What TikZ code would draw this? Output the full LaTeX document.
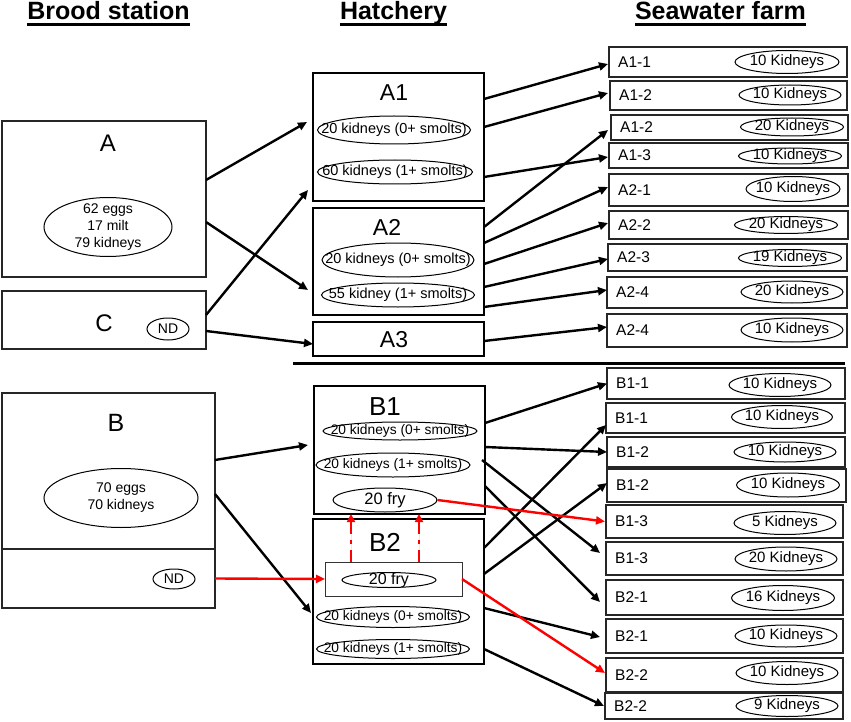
\documentclass[tikz,border=0pt]{standalone}
\usepackage{fontspec}
\setmainfont{Liberation Sans}
\usetikzlibrary{arrows.meta,shapes.geometric}
\newcommand\myfs[1]{\fontsize{#1}{#1}\selectfont}
\tikzset{
 bx/.style={draw=black!85,line width=1.3pt,inner sep=0,outer sep=0},
 hx/.style={draw=black,inner sep=0,outer sep=0},
 ellnode/.style={ellipse,draw=black,line width=1pt,inner sep=0},
 arr/.style={-{Triangle[length=9pt,width=8pt]},line width=2.4pt},
 rarr/.style={arr,draw=red,fill=red},
 rdash/.style={-{Triangle[length=8pt,width=8pt]},line width=2.2pt,draw=red,fill=red,dash pattern=on 12pt off 6pt on 4pt off 6pt},
 txt/.style={inner sep=0},
}
% ellipse with text: name, x, y, w, h, fontsize, text
\newcommand\elli[7]{\node[ellnode,minimum width=#4pt,minimum height=#5pt] (#1) at (#2,#3) {};
 \node[txt,font=\myfs{#6}] (#1t) at (#1) {#7};}
% seawater box: name, cx, cy, w, h, label
\newcommand\sw[6]{\node[bx,minimum width=#4pt,minimum height=#5pt] (#1) at (#2,#3) {};
 \node[txt,font=\myfs{15.5},anchor=west] (#1l) at ([xshift=9pt]#1.west) {#6};}
\begin{document}
\begin{tikzpicture}[x=1pt,y=-1pt]
\useasboundingbox (0,0) rectangle (851,722);
% headers
\node[txt,font=\bfseries\myfs{25},anchor=base] (h1) at (108.5,20) {Brood station};
\node[txt,font=\bfseries\myfs{25},anchor=base] (h2) at (393.5,20) {Hatchery};
\node[txt,font=\bfseries\myfs{25},anchor=base] (h3) at (720.5,20) {Seawater farm};
\foreach \h in {h1,h2,h3}{
 \draw[line width=2.5pt] ([yshift=-4.5pt]\h.base west) -- ([yshift=-4.5pt]\h.base east);}
% brood station
\node[bx,minimum width=204pt,minimum height=156pt] (bA) at (104,199) {};
\node[txt,font=\myfs{24}] (bAl) at (108,143) {A};
\node[ellnode,minimum width=128pt,minimum height=59pt] (bAe) at (108,227) {};
\node[txt,font=\fontsize{14}{17}\selectfont,align=center] (bAt) at (bAe) {62 eggs\\17 milt\\79 kidneys};
\node[bx,minimum width=204pt,minimum height=58pt] (bC) at (104,320) {};
\node[txt,font=\myfs{24}] (bCl) at (104,323) {C};
\elli{bCe}{168}{329}{42}{22}{14}{ND}
\node[bx,minimum width=213pt,minimum height=156pt] (bB) at (108.5,471) {};
\node[txt,font=\myfs{25}] (bBl) at (116,423) {B};
\node[ellnode,minimum width=154pt,minimum height=59pt] (bBe) at (121,498) {};
\node[txt,font=\fontsize{14}{17}\selectfont,align=center] (bBt) at (bBe) {70 eggs\\70 kidneys};
\node[bx,minimum width=213pt,minimum height=59pt] (bN) at (108.5,578.5) {};
\elli{bNe}{174}{579}{42}{20}{14}{ND}
% hatchery
\node[hx,line width=2.8pt,minimum width=171pt,minimum height=128pt] (hA1) at (398.5,137) {};
\node[txt,font=\myfs{23}] (hA1l) at (394,93) {A1};
\elli{hA1a}{394}{130}{153}{28}{14.5}{20 kidneys (0+ smolts)}
\elli{hA1b}{395}{172}{155}{24}{14.5}{60 kidneys (1+ smolts)}
\node[hx,line width=2.2pt,minimum width=171pt,minimum height=107pt] (hA2) at (398.5,261.5) {};
\node[txt,font=\myfs{23}] (hA2l) at (387,227) {A2};
\elli{hA2a}{398}{260}{152}{34}{14.5}{20 kidneys (0+ smolts)}
\elli{hA2b}{398}{295}{153}{24}{14.5}{55 kidney (1+ smolts)}
\node[hx,line width=2pt,minimum width=171pt,minimum height=34pt] (hA3) at (398.5,339) {};
\node[txt,font=\myfs{23}] (hA3l) at (394,340) {A3};
\node[hx,line width=2pt,minimum width=171pt,minimum height=128pt] (hB1) at (399.5,450) {};
\node[txt,font=\myfs{26}] (hB1l) at (385,407) {B1};
\elli{hB1a}{400}{431}{154}{18}{13.8}{20 kidneys (0+ smolts)}
\elli{hB1b}{393}{465}{154}{24}{13.8}{20 kidneys (1+ smolts)}
\elli{hB1c}{385}{500}{104}{24}{16.5}{20 fry}
\node[hx,line width=2.2pt,minimum width=171pt,minimum height=145pt] (hB2) at (398.5,591.5) {};
\node[txt,font=\myfs{26}] (hB2l) at (385,542) {B2};
\node[hx,line width=1pt,draw=black!80,minimum width=137pt,minimum height=34pt] (fry) at (393.5,579) {};
\elli{hB2f}{389}{580}{94}{15}{16}{20 fry}
\elli{hB2a}{393}{617}{153}{21}{13.8}{20 kidneys (0+ smolts)}
\elli{hB2b}{393}{649}{153}{19}{13.8}{20 kidneys (1+ smolts)}
% seawater farm A
\sw{sa1}{728}{62}{238}{30}{A1-1}
\elli{sa1e}{787}{62}{104}{23}{15}{10 Kidneys}
\sw{sa2}{728.5}{95.5}{237}{29}{A1-2}
\elli{sa2e}{790}{95}{102}{20}{15}{10 Kidneys}
\sw{sa3}{729.5}{127.5}{237}{25}{A1-2}
\elli{sa3e}{792}{127}{103}{18}{15}{20 Kidneys}
\sw{sa4}{728.5}{155.5}{239}{25}{A1-3}
\elli{sa4e}{790}{156}{103}{16}{15}{10 Kidneys}
\sw{sa5}{728.5}{190}{239}{32}{A2-1}
\elli{sa5e}{793}{189}{94}{25}{15}{10 Kidneys}
\sw{sa6}{728.5}{225}{239}{28}{A2-2}
\elli{sa6e}{786}{225}{103}{17}{15}{20 Kidneys}
\sw{sa7}{727.5}{257.5}{239}{27}{A2-3}
\elli{sa7e}{790}{258}{103}{17}{15}{19 Kidneys}
\sw{sa8}{727}{292.5}{240}{31}{A2-4}
\elli{sa8e}{792}{292}{102}{22}{15}{20 Kidneys}
\sw{sa9}{727}{330.5}{240}{33}{A2-4}
\elli{sa9e}{792}{330}{102}{24}{15}{10 Kidneys}
% separator
\draw[line width=3pt] (293,363) -- (845,363);
% seawater farm B
\sw{sb1}{726}{383.5}{238}{31}{B1-1}
\elli{sb1e}{780}{385}{102}{23}{15}{10 Kidneys}
\sw{sb2}{725.5}{418}{239}{30}{B1-1}
\elli{sb2e}{782}{417}{101}{23}{15}{10 Kidneys}
\sw{sb3}{726}{452}{238}{30}{B1-2}
\elli{sb3e}{785}{452}{102}{20}{15}{10 Kidneys}
\sw{sb4}{726.5}{485.5}{239}{33}{B1-2}
\elli{sb4e}{788}{485}{103}{24}{15}{10 Kidneys}
\sw{sb5}{724.5}{521.5}{237}{33}{B1-3}
\elli{sb5e}{785}{523}{102}{23}{15}{5 Kidneys}
\sw{sb6}{724.5}{558.5}{237}{33}{B1-3}
\elli{sb6e}{786}{559}{102}{24}{15}{20 Kidneys}
\sw{sb7}{724.5}{597.5}{237}{35}{B2-1}
\elli{sb7e}{783}{598}{103}{25}{15}{16 Kidneys}
\sw{sb8}{724.5}{636}{237}{34}{B2-1}
\elli{sb8e}{786}{636}{102}{22}{15}{10 Kidneys}
\sw{sb9}{724.5}{675}{237}{34}{B2-2}
\elli{sb9e}{787}{673}{102}{23}{15}{10 Kidneys}
\sw{sb10}{724}{706}{238}{26}{B2-2}
\elli{sb10e}{787}{706}{102}{21}{15}{9 Kidneys}
% brood -> hatchery
\draw[arr] ([yshift=19pt]bA.east) -- ([xshift=-6pt,yshift=15pt]hA1.west);
\draw[arr] ([yshift=-23pt]bA.east) -- ([xshift=-5pt,yshift=-28.5pt]hA2.west);
\draw[arr] ([yshift=5pt]bC.east) -- ([xshift=-5pt,yshift=-53pt]hA1.west);
\draw[arr] ([yshift=-11pt]bC.east) -- ([yshift=-5pt]hA3.west);
\draw[arr] ([yshift=11pt]bB.east) -- ([xshift=-6pt,yshift=5pt]hB1.west);
\draw[arr] ([yshift=-23pt]bB.east) -- ([xshift=-2pt,yshift=-21.5pt]hB2.west);
\draw[rarr] (bN.east) -- (fry.west);
% hatchery A -> seawater
\draw[arr] ([yshift=38pt]hA1.east) -- ([xshift=-1pt,yshift=-2pt]sa1.west);
\draw[arr] ([yshift=10pt]hA1.east) -- ([xshift=-2pt,yshift=2.5pt]sa2.west);
\draw[arr] ([yshift=-40pt]hA1.east) -- ([xshift=-1pt,yshift=-1.5pt]sa4.west);
\draw[arr] ([yshift=34.5pt]hA2.east) -- ([xshift=-3pt,yshift=-2.5pt]sa3.west);
\draw[arr] ([yshift=18.5pt]hA2.east) -- ([xshift=-1pt,yshift=3pt]sa5.west);
\draw[arr] ([yshift=-2.5pt]hA2.east) -- ([xshift=-1pt,yshift=2pt]sa6.west);
\draw[arr] ([yshift=-25.5pt]hA2.east) -- ([yshift=-1.5pt]sa7.west);
\draw[arr] ([yshift=-45.5pt]hA2.east) -- ([yshift=2.5pt]sa8.west);
\draw[arr] ([yshift=-2pt]hA3.east) -- ([yshift=3.5pt]sa9.west);
% hatchery B -> seawater
\draw[arr] ([yshift=27pt]hB1.east) -- (sb1.west);
\draw[arr] ([yshift=3pt]hB1.east) -- (sb3.west);
\draw[arr] ([xshift=-3pt,yshift=-10pt]hB1.east) -- ([xshift=-6pt,yshift=5.5pt]sb6.west);
\draw[arr] ([yshift=-36pt]hB1.east) -- ([xshift=-6pt,yshift=-4.5pt]sb7.west);
\draw[arr] ([yshift=43.5pt]hB2.east) -- ([yshift=-7pt]sb2.west);
\draw[arr] ([yshift=17.5pt]hB2.east) -- ([yshift=2.5pt]sb4.west);
\draw[arr] ([yshift=-16.5pt]hB2.east) -- ([xshift=-6pt,yshift=-1pt]sb8.west);
\draw[arr] ([yshift=-57.5pt]hB2.east) -- ([xshift=-1pt]sb10.west);
\draw[rarr] (hB1c.east) -- ([xshift=-1pt]sb5.west);
\draw[rarr] (fry.east) -- ([xshift=-1pt,yshift=2pt]sb9.west);
% fry transfer
\draw[rdash] ([xshift=-42.5pt]fry.north) -- ([xshift=-42.5pt]fry.north |- hB1.south);
\draw[rdash] ([xshift=25.5pt]fry.north) -- ([xshift=25.5pt]fry.north |- hB1.south);
\end{tikzpicture}
\end{document}
